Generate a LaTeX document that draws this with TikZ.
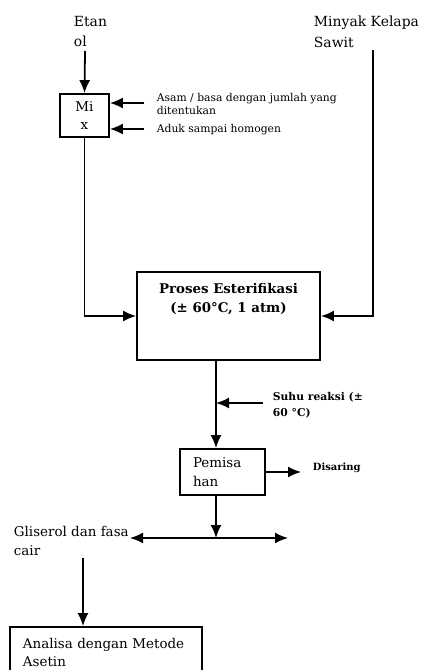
\documentclass[tikz,border=0pt]{standalone}
\usepackage{fontspec}
\setmainfont{DejaVu Serif}
\usetikzlibrary{arrows.meta}
\begin{document}
\begin{tikzpicture}[x=1bp,y=-1bp, line width=1.8bp,
  arr/.style={-{Latex[length=13bp,width=11bp]}},
  darr/.style={{Latex[length=13bp,width=11bp]}-{Latex[length=13bp,width=11bp]}},
  box/.style={draw, inner sep=0pt, line width=1.8bp},
  lbl/.style={anchor=north west, inner sep=0pt, align=left},
  big/.style={font=\fontsize{14}{21}\selectfont},
  mid/.style={font=\fontsize{13.5}{19}\selectfont},
  small/.style={font=\fontsize{10.8}{13}\selectfont}]
\useasboundingbox (0,0) rectangle (422,670);
% labels
\node[lbl,big] (etanol) at (73,15) {Etan\\ol};
\node[lbl,big] (minyak) at (313,15) {Minyak Kelapa\\Sawit};
\node[lbl,small] (asam) at (156,92) {Asam / basa dengan jumlah yang\\ditentukan};
\node[lbl,small] (aduk) at (156,123) {Aduk sampai homogen};
\node[lbl,font=\fontsize{10.8}{16}\selectfont\bfseries] (suhu) at (272,391) {Suhu reaksi (±\\60 °C)};
\node[lbl,font=\fontsize{10}{15}\selectfont\bfseries] (disaring) at (312,462) {Disaring};
\node[lbl,mid] (gliserol) at (13,525) {Gliserol dan fasa\\cair};
% boxes
\node[box,font=\fontsize{13.5}{18}\selectfont,minimum width=49bp,minimum height=43bp,align=center] (mix) at (84.5,115.5) {Mi\\x};
\node[box,minimum width=183bp,minimum height=88bp] (proses) at (228.5,316) {};
\node[align=center,font=\fontsize{13.4}{20}\selectfont\bfseries] (prosestxt) at (228.5,299) {Proses Esterifikasi\\(± 60°C, 1 atm)};
\node[box,mid,text width=59bp,inner xsep=13bp,minimum height=46bp,align=left] (pemisahan) at (222.5,472) {Pemisa\\han};
\node[box,mid,text width=166bp,inner xsep=13bp,minimum height=51bp,align=left] (analisa) at (106,652.5) {Analisa dengan Metode\\Asetin};
% coordinates
\coordinate (e1) at (85,51);
\coordinate (m1) at (373,50);
\coordinate (a1) at (144,103);
\coordinate (a2) at (144,129);
\coordinate (col) at (216,0);
\coordinate (s1) at (263,403);
\coordinate (d1) at (301,472);
\coordinate (split) at (216,538);
\coordinate (gl) at (130,538);
\coordinate (gr) at (288,538);
\coordinate (g1) at (83,558);
% connectors
\draw[arr] (e1) -- (mix.north);
\draw[arr] (a1) -- (mix.east |- a1);
\draw[arr] (a2) -- (mix.east |- a2);
\draw[arr] (mix.south) |- (proses.west);
\draw[arr] (m1) |- (proses.east);
\draw[arr] (proses.south -| col) -- (pemisahan.north -| col);
\draw[arr] (s1) -- (col |- s1);
\draw[arr] (pemisahan.east) -- (d1);
\draw[arr] (pemisahan.south -| col) -- (split);
\draw[darr] (gl) -- (gr);
\draw[arr] (g1) -- (analisa.north -| g1);
\end{tikzpicture}
\end{document}
